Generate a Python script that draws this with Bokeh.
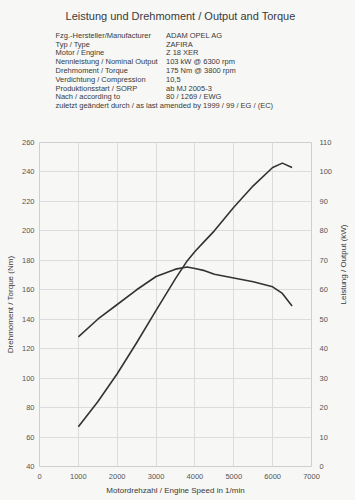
import math
from bokeh.plotting import figure
from bokeh.models import Range1d, LinearAxis, FixedTicker
from bokeh.layouts import column
from bokeh.core.properties import value
from bokeh.embed import file_html
from bokeh.resources import INLINE

# ---- data ----
title_text = "Leistung und Drehmoment / Output and Torque"
info_labels = ["Fzg.-Hersteller/Manufacturer", "Typ / Type", "Motor / Engine",
               "Nennleistung / Nominal Output", "Drehmoment / Torque",
               "Verdichtung / Compression", "Produktionsstart / SORP",
               "Nach / according to"]
info_values = ["ADAM OPEL AG", "ZAFIRA", "Z 18 XER", "103 kW @ 6300 rpm",
               "175 Nm @ 3800 rpm", "10,5", "ab MJ 2005-3", "80 / 1269 / EWG"]
info_last = "zuletzt geändert durch / as last amended by 1999 / 99 / EG / (EC)"

rpm = [1000, 1500, 2000, 2500, 3000, 3500, 3800, 4000, 4250, 4500, 5000, 5500, 6000, 6250, 6500]
torque_nm = [128, 140, 150, 160, 169, 174, 175.5, 174.5, 173, 170.5, 168, 165.5, 162, 157.5, 149]
power_kw = [13.5, 22, 31.5, 42, 53, 63.8, 69.8, 73, 76.5, 80, 88, 95.3, 101.5, 103, 101.5]

x_ticks = [0, 1000, 2000, 3000, 4000, 5000, 6000, 7000]
nm_ticks = [40, 60, 80, 100, 120, 140, 160, 180, 200, 220, 240, 260]
kw_ticks = [0, 10, 20, 30, 40, 50, 60, 70, 80, 90, 100, 110]

BG = "#f7f7f5"
TXT = "#3a3a3a"
FONT = "Liberation Sans"

# frame geometry (pixels)
FL, FR, FT, FB = 39, 311, 142, 466
HDR_H = 130

# ---- header (frame aligned with the chart frame; data units = pixels) ----
hdr = figure(frame_width=FR - FL, frame_height=HDR_H, output_backend="svg",
             toolbar_location=None, x_range=Range1d(FL, FR),
             y_range=Range1d(HDR_H, 0), min_border_left=FL,
             min_border_right=355 - FR, min_border_top=0, min_border_bottom=0,
             outline_line_color=None)
hdr.axis.visible = False
hdr.grid.visible = False
hdr.background_fill_color = BG
hdr.border_fill_color = BG

hdr.text(x=[180], y=[15], text=[title_text], text_font=value(FONT),
         text_font_size="11px", text_color=TXT, text_align="center",
         text_baseline="middle")
ys = [34.7 + 8.8 * i for i in range(len(info_labels))]
hdr.text(x=[55] * len(info_labels), y=ys, text=info_labels, text_font=value(FONT),
         text_font_size="7.5px", text_color=TXT, text_baseline="middle")
hdr.text(x=[165.5] * len(info_values), y=ys, text=info_values, text_font=value(FONT),
         text_font_size="7.5px", text_color=TXT, text_baseline="middle")
hdr.text(x=[55], y=[34.7 + 8.8 * len(info_labels)], text=[info_last],
         text_font=value(FONT), text_font_size="7.5px", text_color=TXT,
         text_baseline="middle")

# ---- chart ----
p = figure(frame_width=FR - FL, frame_height=FB - FT,
           output_backend="svg", toolbar_location=None,
           x_range=Range1d(0, 7000), y_range=Range1d(40, 260),
           min_border_left=FL, min_border_right=355 - FR,
           min_border_top=FT - HDR_H, min_border_bottom=500 - FB)
p.background_fill_color = BG
p.border_fill_color = BG
p.outline_line_color = "#cfcfcf"
p.extra_y_ranges = {"kw": Range1d(0, 110)}

p.xaxis.ticker = FixedTicker(ticks=x_ticks)
p.yaxis.ticker = FixedTicker(ticks=nm_ticks)
p.xaxis.axis_label = "Motordrehzahl / Engine Speed in 1/min"
p.yaxis.axis_label = "Drehmoment / Torque (Nm)"

right = LinearAxis(y_range_name="kw", ticker=FixedTicker(ticks=kw_ticks),
                   axis_label="Leistung / Output (kW)")
right.axis_label_orientation = math.pi / 2
p.add_layout(right, "right")

for ax in [p.xaxis[0], p.yaxis[0], right]:
    ax.axis_line_color = None
    ax.major_tick_line_color = None
    ax.minor_tick_line_color = None
    ax.major_tick_out = 0
    ax.major_tick_in = 0
    ax.minor_tick_out = 0
    ax.minor_tick_in = 0
    ax.major_label_text_font = FONT
    ax.major_label_text_font_size = "7.5px"
    ax.major_label_text_color = "#555555"
    ax.axis_label_text_font = FONT
    ax.axis_label_text_font_size = "8px"
    ax.axis_label_text_font_style = "normal"
    ax.axis_label_text_color = TXT

p.xaxis.major_label_standoff = 7
p.xaxis.axis_label_standoff = 4
p.yaxis[0].major_label_standoff = 5
p.yaxis[0].axis_label_standoff = 4
right.major_label_standoff = 8
right.axis_label_standoff = 8

p.xgrid.ticker = FixedTicker(ticks=x_ticks)
p.ygrid.ticker = FixedTicker(ticks=nm_ticks)
p.grid.grid_line_color = "#dcdcdc"
p.grid.grid_line_width = 1

p.line(rpm, torque_nm, line_color="#333333", line_width=1.6, line_join="round")
p.line(rpm, power_kw, y_range_name="kw", line_color="#333333", line_width=1.6,
       line_join="round")

layout = column(hdr, p, spacing=0)
layout.styles = {"background-color": BG}

open("out.html", "w").write(file_html(layout, INLINE))
